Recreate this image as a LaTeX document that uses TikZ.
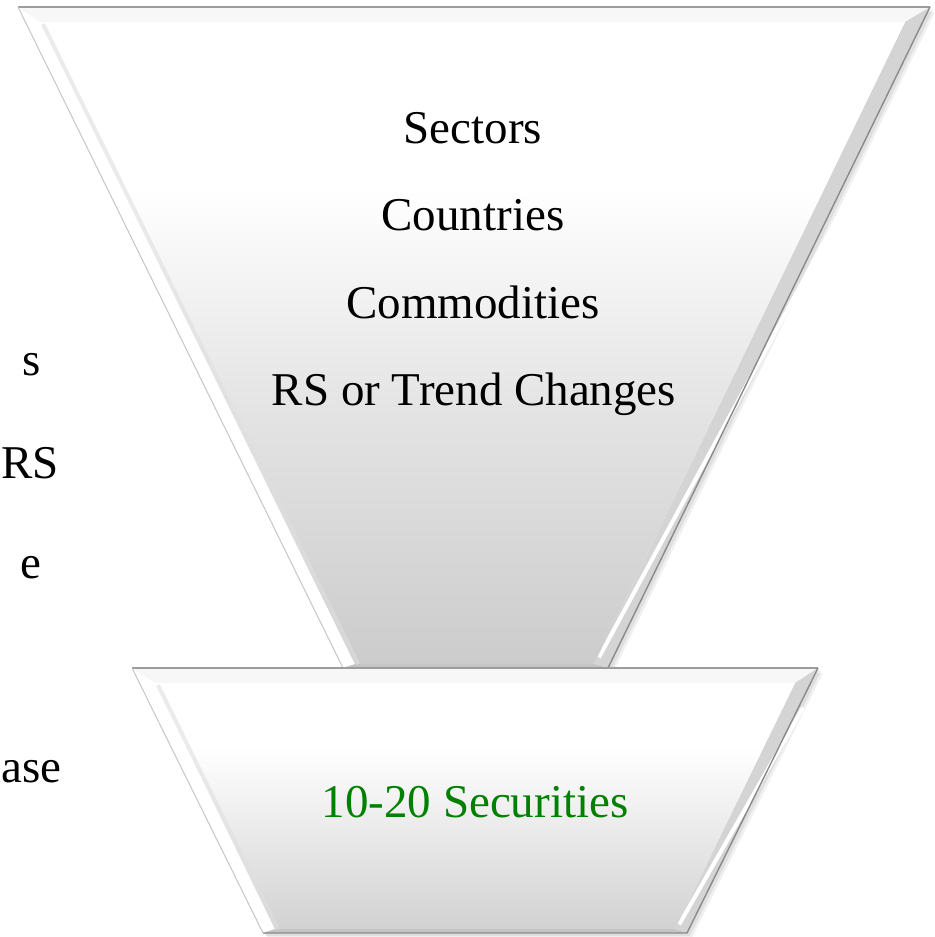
\documentclass[tikz,border=0pt]{standalone}
\usepackage{fontspec}
\setmainfont{Liberation Serif}
\usetikzlibrary{calc}
\definecolor{edgegray}{HTML}{9C9C9C}
\definecolor{darkedge}{HTML}{8A8A8A}
\definecolor{bevelgray}{HTML}{D4D4D4}
\definecolor{basegray}{HTML}{C4C4C4}
\definecolor{shadeB}{HTML}{CCCCCC}
\definecolor{shadeM}{HTML}{E4E4E4}
\definecolor{shadeS}{HTML}{D2D2D2}
\definecolor{labelgreen}{HTML}{008000}
\pgfdeclareverticalshading{bigface}{100bp}{color(0bp)=(shadeB); color(25bp)=(shadeB); color(45bp)=(shadeM); color(62bp)=(white); color(100bp)=(white)}
\pgfdeclareverticalshading{smallface}{100bp}{color(0bp)=(shadeS); color(25bp)=(shadeS); color(62bp)=(white); color(100bp)=(white)}
\begin{document}
\begin{tikzpicture}[x=0.5pt,y=-0.5pt,
    funnel text/.style={anchor=base, font=\fontsize{23.5}{28}\selectfont},
    cut text/.style={anchor=base west, font=\fontsize{23.5}{28}\selectfont}]
    \useasboundingbox (0,0) rectangle (934,937);
    % corners of the upper part
    \coordinate (bigTL) at (18,7);
    \coordinate (bigTR) at (930,7);
    \coordinate (bigBR) at (608,668);
    \coordinate (bigBL) at (343,668);
    \coordinate (bigiTL) at (40,22);
    \coordinate (bigiTR) at (905,22);
    \coordinate (bigiBR) at (594,664);
    \coordinate (bigiBL) at (355,664);
    % corners of the lower part
    \coordinate (smTL) at (132,668);
    \coordinate (smTR) at (818,668);
    \coordinate (smBR) at (687,933);
    \coordinate (smBL) at (263,933);
    \coordinate (smiTL) at (155,683);
    \coordinate (smiTR) at (795,683);
    \coordinate (smiBR) at (675,929);
    \coordinate (smiBL) at (275,929);

    % soft shadows
    \fill[black, opacity=0.06] ([shift={(5,5)}]bigTL) -- ([shift={(5,5)}]bigTR) -- ([shift={(5,5)}]bigBR) -- ([shift={(5,5)}]bigBL) -- cycle;
    \fill[black, opacity=0.07] ([shift={(3,3)}]bigTL) -- ([shift={(3,3)}]bigTR) -- ([shift={(3,3)}]bigBR) -- ([shift={(3,3)}]bigBL) -- cycle;
    \fill[black, opacity=0.06] ([shift={(5,5)}]smTL) -- ([shift={(5,5)}]smTR) -- ([shift={(5,5)}]smBR) -- ([shift={(5,5)}]smBL) -- cycle;
    \fill[black, opacity=0.07] ([shift={(3,3)}]smTL) -- ([shift={(3,3)}]smTR) -- ([shift={(3,3)}]smBR) -- ([shift={(3,3)}]smBL) -- cycle;

    % upper part
    \fill[white] (bigTL) -- (bigTR) -- (bigBR) -- (bigBL) -- cycle;
    \fill[gray!6] (bigTL) -- (bigTR) -- (bigiTR) -- (bigiTL) -- cycle;
    \fill[bevelgray] (bigTR) -- (bigBR) -- (bigiBR) -- (bigiTR) -- cycle;
    \draw[white, line width=2pt] ($(bigiTR)!0.35!(bigTR)+(0,60)$) -- ($(bigiBR)!0.35!(bigBR)+(0,-8)$);
    \fill[basegray] (bigBL) -- (bigBR) -- (bigiBR) -- (bigiBL) -- cycle;
    \shade[shading=bigface] (bigiTL) -- (bigiTR) -- (bigiBR) -- (bigiBL) -- cycle;
    \draw[gray!25, line width=2pt, opacity=0.6] ($(bigiTL)+(3,2)$) -- ($(bigiBL)+(3,0)$);
    \draw[edgegray, line width=1pt] (bigTL) -- (bigTR);
    \draw[darkedge, line width=0.7pt] (bigTR) -- (bigBR) -- (bigBL);
    \draw[gray!45, line width=0.5pt] (bigTL) -- (bigBL);

    % lower part
    \fill[white] (smTL) -- (smTR) -- (smBR) -- (smBL) -- cycle;
    \fill[gray!6] (smTL) -- (smTR) -- (smiTR) -- (smiTL) -- cycle;
    \fill[bevelgray] (smTR) -- (smBR) -- (smiBR) -- (smiTR) -- cycle;
    \draw[white, line width=2pt] ($(smiTR)!0.35!(smTR)+(0,30)$) -- ($(smiBR)!0.35!(smBR)+(0,-6)$);
    \fill[basegray] (smBL) -- (smBR) -- (smiBR) -- (smiBL) -- cycle;
    \shade[shading=smallface] (smiTL) -- (smiTR) -- (smiBR) -- (smiBL) -- cycle;
    \draw[gray!25, line width=2pt, opacity=0.6] ($(smiTL)+(3,2)$) -- ($(smiBL)+(3,0)$);
    \draw[edgegray, line width=1pt] (smTL) -- (smTR);
    \draw[darkedge, line width=0.7pt] (smTR) -- (smBR) -- (smBL);
    \draw[gray!45, line width=0.5pt] (smTL) -- (smBL);

    % labels
    \node[funnel text] (sectors) at (473,143) {Sectors};
    \node[funnel text] (countries) at (473,230) {Countries};
    \node[funnel text] (commodities) at (473,318) {Commodities};
    \node[funnel text] (rschanges) at (474,405) {RS or Trend Changes};
    \node[funnel text, text=labelgreen] (securities) at (475,817) {10-20 Securities};

    % text at the left border
    \node[cut text, inner sep=0pt] (cuts) at (22,375) {s};
    \node[cut text, inner sep=0pt] (cutrs) at (1,478) {RS};
    \node[cut text, inner sep=0pt] (cute) at (20,578) {e};
    \node[cut text, inner sep=0pt] (cutase) at (1,782) {ase};
\end{tikzpicture}
\end{document}
